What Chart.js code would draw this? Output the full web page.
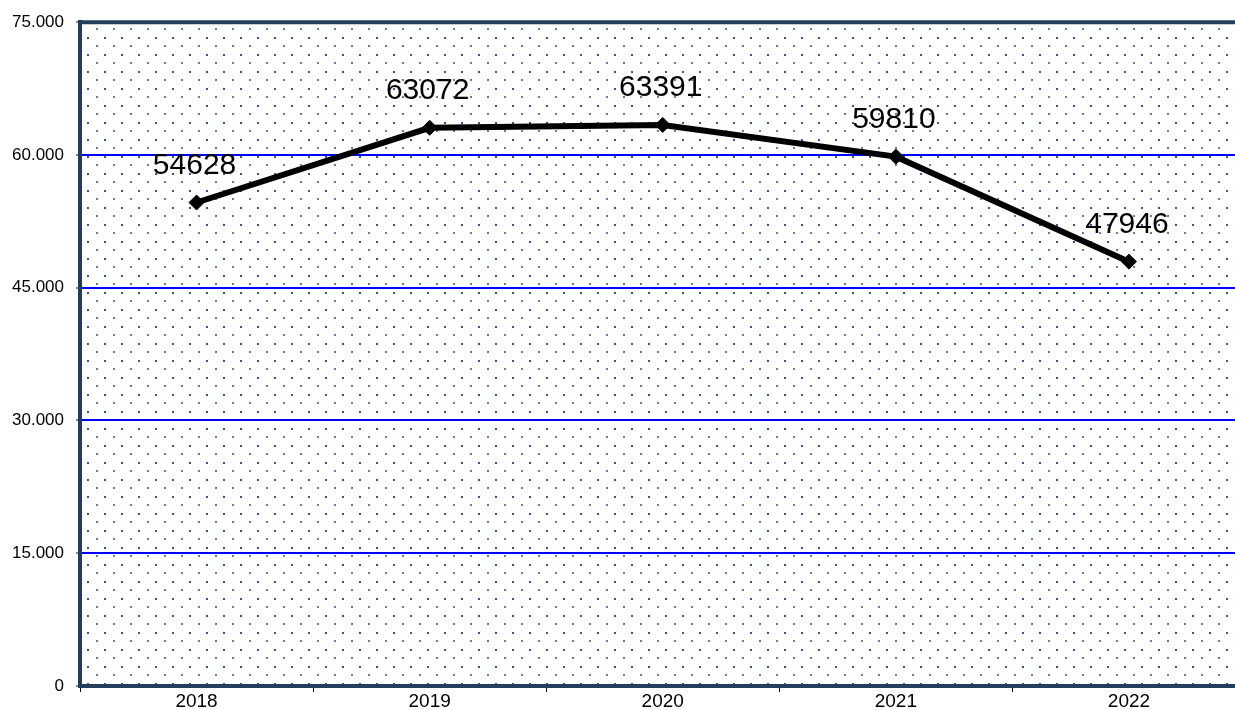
<!DOCTYPE html>
<html lang="de">
<head>
  <meta charset="UTF-8" />
  <title>Entwicklung 2018-2022</title>
  <script src="https://cdn.jsdelivr.net/npm/chart.js"></script>
  <style>
    * {
      box-sizing: border-box;
    }
    html, body {
      margin: 0;
      padding: 0;
      background: #ffffff;
      overflow: hidden;
    }
    #wrap {
      width: 1254px;
      height: 710px;
    }
  </style>
</head>
<body>
  <div id="wrap">
    <canvas id="lineChart" width="1254" height="710"></canvas>
  </div>

<script>
  const years = ['2018', '2019', '2020', '2021', '2022'];
  const values = [54628, 63072, 63391, 59810, 47946];
  const yTicks = [0, 15000, 30000, 45000, 60000, 75000];

  const fontFamily = 'Arial, "Liberation Sans", sans-serif';
  const borderColor = '#223d5e';

  function formatThousands(v) {
    if (v === 0) return '0';
    return String(v).replace(/\B(?=(\d{3})+(?!\d))/g, '.');
  }

  // punktiertes Muster im Diagrammbereich + obere Kante
  const areaPlugin = {
    id: 'areaPlugin',
    beforeDraw(chart) {
      const { ctx, chartArea } = chart;
      const { left, top, right, bottom } = chartArea;
      ctx.save();
      ctx.fillStyle = '#ffffff';
      ctx.fillRect(left, top, right - left, bottom - top);
      const stepX = 17;
      const stepY = 8.5;
      let row = 0;
      for (let y = top + 7; y < bottom - 1; y += stepY) {
        const even = row % 2 === 0;
        const startX = left + (even ? 16.7 : 7.7);
        ctx.fillStyle = even ? '#5a7fb3' : '#2f5a98';
        for (let x = startX; x < right; x += stepX) {
          ctx.fillRect(Math.round(x) - 1, Math.round(y) - 1, 2, 2);
        }
        row++;
      }
      ctx.restore();
    },
    afterDraw(chart) {
      const { ctx, chartArea } = chart;
      ctx.save();
      ctx.strokeStyle = borderColor;
      ctx.lineWidth = 4;
      ctx.beginPath();
      ctx.moveTo(chartArea.left - 2, chartArea.top);
      ctx.lineTo(chartArea.right, chartArea.top);
      ctx.stroke();
      ctx.restore();
    }
  };

  // Werte über den Punkten
  const valueLabels = {
    id: 'valueLabels',
    afterDatasetsDraw(chart) {
      const { ctx } = chart;
      const meta = chart.getDatasetMeta(0);
      ctx.save();
      ctx.font = '30px ' + fontFamily;
      ctx.fillStyle = '#000000';
      ctx.textAlign = 'center';
      ctx.textBaseline = 'middle';
      meta.data.forEach((pt, i) => {
        ctx.fillText(String(values[i]), pt.x - 2, pt.y - 37);
      });
      ctx.restore();
    }
  };

  const ctx = document.getElementById('lineChart').getContext('2d');

  new Chart(ctx, {
    type: 'line',
    data: {
      labels: years,
      datasets: [{
        data: values,
        borderColor: '#000000',
        borderWidth: 6,
        backgroundColor: '#000000',
        pointStyle: 'rectRot',
        pointRadius: 7.5,
        pointBorderWidth: 1,
        pointBorderColor: '#000000',
        pointBackgroundColor: '#000000',
        tension: 0,
        fill: false
      }]
    },
    options: {
      responsive: false,
      animation: false,
      layout: {
        padding: { top: 20, right: 5, left: 0, bottom: 0 }
      },
      plugins: {
        legend: { display: false },
        tooltip: { enabled: false }
      },
      scales: {
        x: {
          offset: true,
          afterFit(scale) { scale.height = 24; },
          grid: {
            offset: true,
            drawOnChartArea: false,
            tickLength: 6,
            tickColor: '#000000',
            tickWidth: 1
          },
          border: {
            color: borderColor,
            width: 4
          },
          ticks: {
            padding: 0,
            color: '#000000',
            font: { family: fontFamily, size: 19, lineHeight: 1 }
          }
        },
        y: {
          min: 0,
          max: 75000,
          afterFit(scale) { scale.width = 80; },
          afterBuildTicks(scale) {
            scale.ticks = yTicks.map(v => ({ value: v }));
          },
          grid: {
            color: c => (c.tick && (c.tick.value === 0 || c.tick.value === 75000)) ? 'rgba(0,0,0,0)' : '#0000ff',
            lineWidth: 2,
            tickLength: 4,
            tickColor: '#888888',
            tickWidth: 2
          },
          border: {
            color: borderColor,
            width: 4
          },
          ticks: {
            padding: 12,
            color: '#000000',
            font: { family: fontFamily, size: 17 },
            callback: v => formatThousands(v)
          }
        }
      }
    },
    plugins: [areaPlugin, valueLabels]
  });
</script>
</body>
</html>
